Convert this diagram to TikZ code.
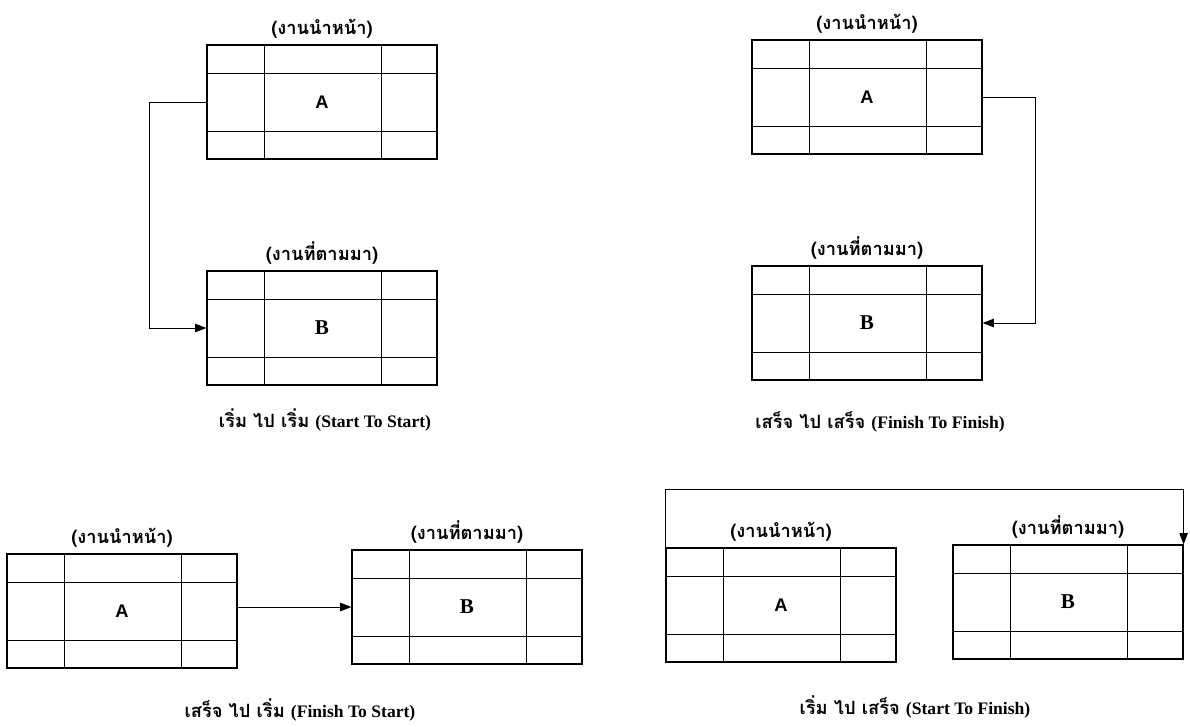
\documentclass[tikz,border=0pt]{standalone}
\usepackage{fontspec}
\setmainfont{Liberation Serif}
\newfontfamily\thaifont[Script=Thai]{Loma}
\newfontfamily\latinsans{Liberation Sans}
\usetikzlibrary{positioning,calc,arrows.meta}

\begin{document}
\begin{tikzpicture}[x=0.025cm,y=-0.025cm,line width=0.8pt,
  task/.style={draw,minimum width=5.75cm,minimum height=2.85cm,inner sep=0pt},
  tag/.style={font=\thaifont\fontsize{13}{15}\selectfont\bfseries,inner sep=1pt},
  caption/.style={font=\thaifont\fontsize{13}{15}\selectfont\bfseries},
  link/.style={line width=0.7pt,-{Triangle[length=8pt,width=6pt]}}]
\useasboundingbox (0,0) rectangle (1190,726);
% activity boxes
\foreach \n/\x/\y in {A1/322/102,A2/867/97,A3/122/611,A4/781/605}
  \node[task,font=\latinsans\fontsize{13}{15}\selectfont\bfseries] (\n) at (\x,\y) {A};
\foreach \n/\x/\y in {B1/322/328,B2/867/323,B3/467/607,B4/1068/602}
  \node[task,font=\fontsize{15}{17}\selectfont\bfseries] (\n) at (\x,\y) {B};
% inner cells of each box
\foreach \n in {A1,B1,A2,B2,A3,B3,A4,B4}{
  \draw ($(\n.north west)+(58,0)$) -- ($(\n.south west)+(58,0)$)
        ($(\n.north east)+(-56,0)$) -- ($(\n.south east)+(-56,0)$)
        ($(\n.north west)+(0,29)$) -- ($(\n.north east)+(0,29)$)
        ($(\n.south west)+(0,-28)$) -- ($(\n.south east)+(0,-28)$);
}
\foreach \n in {A1,A2,A3,A4}
  \node[tag,above=3pt of \n] (\n-tag) {(งานนำหน้า)};
\foreach \n in {B1,B2,B3,B4}
  \node[tag,above=3pt of \n] (\n-tag) {(งานที่ตามมา)};
% dependency links
\draw[link] (A1.west) -- ++(-57,0) |- (B1.west);
\draw[link] (A2.east) -- ++(53,0) |- (B2.east);
\draw[link] (A3.east |- B3.west) -- (B3.west);
\draw[link] (A4.north west) -- ++(0,-58) -| (B4.north east);
% captions
\node[caption] (ss) at (325,420) {เริ่ม ไป เริ่ม \textnormal{\fontsize{12.5}{14}\selectfont\bfseries(Start To Start)}};
\node[caption] (ff) at (880,422) {เสร็จ ไป เสร็จ \textnormal{\fontsize{12.5}{14}\selectfont\bfseries(Finish To Finish)}};
\node[caption] (fs) at (300,710) {เสร็จ ไป เริ่ม \textnormal{\fontsize{12.5}{14}\selectfont\bfseries(Finish To Start)}};
\node[caption] (sf) at (915,707) {เริ่ม ไป เสร็จ \textnormal{\fontsize{12.5}{14}\selectfont\bfseries(Start To Finish)}};
\end{tikzpicture}
\end{document}
